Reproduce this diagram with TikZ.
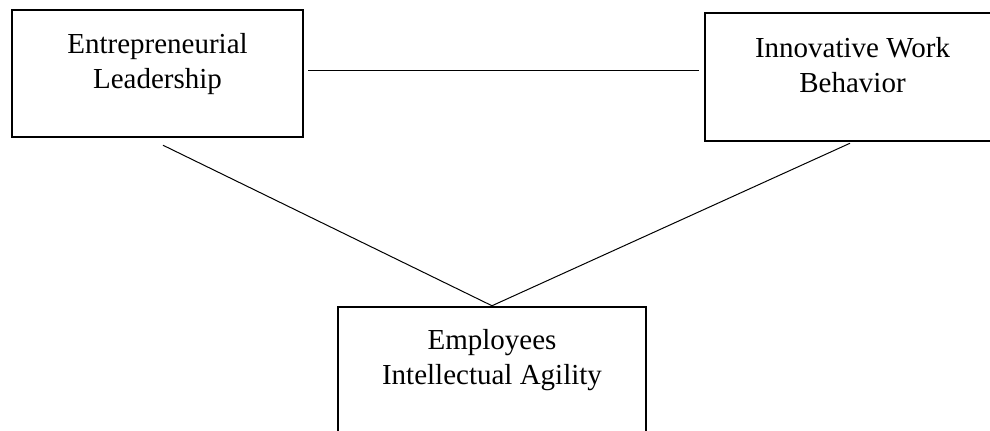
\documentclass[tikz,border=0pt]{standalone}
\usepackage{fontspec}
\setmainfont{Liberation Serif}
\usetikzlibrary{positioning}

\begin{document}
\begin{tikzpicture}[
    x = 0.5pt, y = 0.5pt,
    box/.style = {draw, line width = 1.25pt, inner sep = 0pt},
    lbl/.style = {align = center, inner sep = 0pt,
                  font = \fontsize{14.5}{17.5}\selectfont},
    link/.style = {line width = 0.5pt}]

\clip (0,0) rectangle (990,-431);

\node[box, minimum width = 145.5pt, minimum height = 63.5pt] (el) at (157.5,-73.5) {};
\node[box, minimum width = 147.5pt, minimum height = 64pt]   (iwb) at (852.5,-77) {};
\node[box, minimum width = 154pt, minimum height = 65pt]     (eia) at (492,-372) {};

\node[lbl, below = 12pt of el.north]  (eltxt)  {Entrepreneurial\\Leadership};
\node[lbl, below = 12.5pt of iwb.north] (iwbtxt) {Innovative Work\\Behavior};
\node[lbl, below = 11.5pt of eia.north] (eiatxt) {Employees\\Intellectual Agility};

\draw[link] ([shift={(4,2.5)}]el.east) -- ([shift={(-5,6)}]iwb.west);
\draw[link] ([shift={(5.5,-7)}]el.south) -- (eia.north);
\draw[link] ([shift={(-2.5,-1)}]iwb.south) -- (eia.north);
\end{tikzpicture}
\end{document}
